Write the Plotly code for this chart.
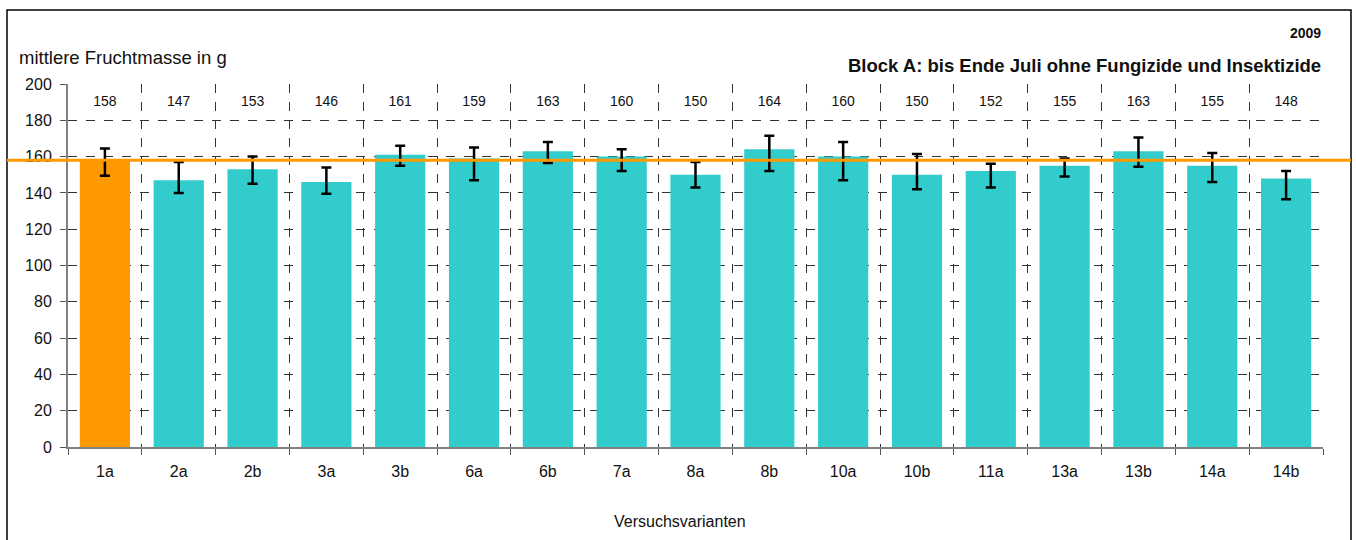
import plotly.graph_objects as go

categories = ["1a", "2a", "2b", "3a", "3b", "6a", "6b", "7a", "8a", "8b",
              "10a", "10b", "11a", "13a", "13b", "14a", "14b"]
values = [158, 147, 153, 146, 161, 159, 163, 160, 150, 164, 160, 150, 152, 155, 163, 155, 148]
err_plus = [6.5, 10, 7, 8, 5, 6, 5, 4, 7, 7.5, 8, 11.5, 4, 4, 7.5, 7, 4]
err_minus = [8.5, 7, 8, 6.5, 6, 12, 6.5, 8, 7, 12, 13, 8, 9, 6, 8.6, 9, 11.5]
reference_value = 158
label_level = 190
y_ticks = [0, 20, 40, 60, 80, 100, 120, 140, 160, 180, 200]

bar_colors = ["#FF9900"] + ["#33CCCC"] * (len(categories) - 1)
font = "Liberation Sans, Arial"

fig = go.Figure()
fig.add_trace(go.Bar(
    x=categories, y=values, marker_color=bar_colors, marker_line_width=0,
    width=0.68,
    error_y=dict(type="data", symmetric=False, array=err_plus, arrayminus=err_minus,
                 color="black", thickness=2.5, width=5),
    showlegend=False, hoverinfo="x+y",
))
fig.add_trace(go.Scatter(
    x=categories, y=[label_level] * len(categories), mode="text",
    text=[str(v) for v in values], textposition="middle center",
    textfont=dict(size=14, color="#111111", family=font),
    showlegend=False, hoverinfo="skip",
))

L, R, T, B = 68, 33, 84, 93
W, H = 1356, 540
pw, ph = W - L - R, H - T - B

def px_x(p):
    return (p - L) / pw

def px_y(p):
    return (H - B - p) / ph

# orange reference line
fig.add_shape(type="line", xref="paper", yref="y",
              x0=px_x(7), x1=px_x(1351), y0=reference_value, y1=reference_value,
              line=dict(color="#FF9900", width=3), layer="above")
# outer frame
fig.add_shape(type="rect", xref="paper", yref="paper",
              x0=px_x(7), x1=px_x(1351), y0=px_y(560), y1=px_y(10),
              line=dict(color="black", width=1.5), fillcolor="rgba(0,0,0,0)", layer="below")

fig.add_annotation(xref="paper", yref="paper", x=px_x(17), y=px_y(57),
                   xanchor="left", yanchor="middle", showarrow=False,
                   text="mittlere Fruchtmasse in g",
                   font=dict(size=18.5, color="#111111", family=font))
fig.add_annotation(xref="paper", yref="paper", x=px_x(1323), y=px_y(33),
                   xanchor="right", yanchor="middle", showarrow=False,
                   text="<b>2009</b>", font=dict(size=14, color="#111111", family=font))
fig.add_annotation(xref="paper", yref="paper", x=px_x(1323), y=px_y(66),
                   xanchor="right", yanchor="middle", showarrow=False,
                   text="<b>Block A: bis Ende Juli ohne Fungizide und Insektizide</b>",
                   font=dict(size=18.5, color="#111111", family=font))
fig.add_annotation(xref="paper", yref="paper", x=px_x(680), y=px_y(521),
                   xanchor="center", yanchor="middle", showarrow=False,
                   text="Versuchsvarianten", font=dict(size=16, color="#111111", family=font))

fig.update_layout(
    width=W, height=H,
    margin=dict(l=L, r=R, t=T, b=B),
    paper_bgcolor="white", plot_bgcolor="white",
    font=dict(family=font, size=15, color="#111111"),
    xaxis=dict(
        type="category", range=[-0.5, len(categories) - 0.5],
        tickson="boundaries", ticks="outside", ticklen=6, tickcolor="#555555",
        showgrid=True, gridcolor="#333333", griddash="dash", gridwidth=1,
        showline=True, linecolor="#808080", linewidth=2,
        tickfont=dict(size=16, color="#111111"), ticklabelstandoff=9,
    ),
    yaxis=dict(
        range=[0, 200], tickvals=y_ticks, ticks="outside", ticklen=6, tickcolor="#555555",
        showgrid=True, gridcolor="#333333", griddash="dash", gridwidth=1,
        showline=True, linecolor="#808080", linewidth=2, zeroline=False,
        tickfont=dict(size=16, color="#111111"), ticklabelstandoff=5,
    ),
)

fig.write_html("out.html", post_script="document.body.style.margin='0';",
               config={"displayModeBar": False})
